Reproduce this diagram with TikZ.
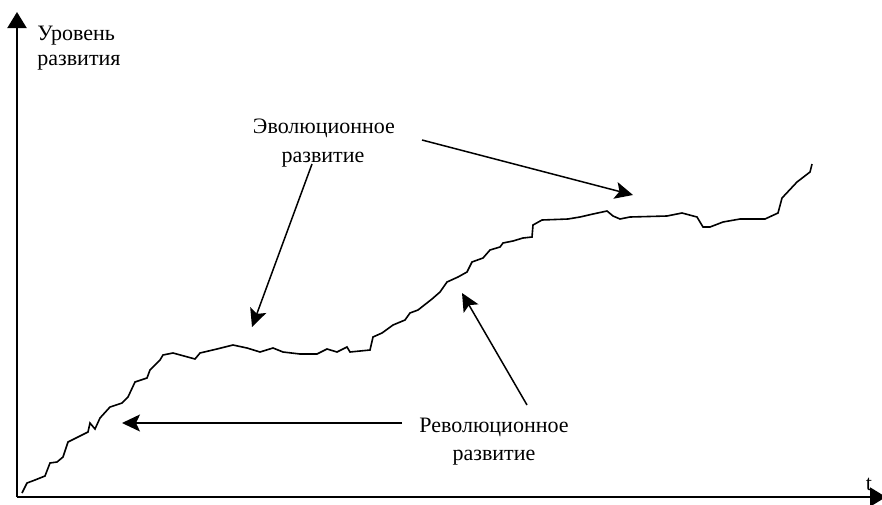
\documentclass[tikz,border=0pt]{standalone}
\usepackage{fontspec}
\setmainfont{Liberation Serif}
\usetikzlibrary{arrows.meta}

\tikzset{
  axis/.style={line width=1pt,-{Triangle[length=8pt,width=9.5pt]}},
  pointer/.style={line width=0.75pt,-{Stealth[length=9pt,width=8.5pt,inset=2pt]}},
  lbl/.style={inner sep=0pt,anchor=base,font=\fontsize{11}{13}\selectfont},
}

\begin{document}
\begin{tikzpicture}[x=0.5pt,y=-0.5pt]
    \useasboundingbox (0,0) rectangle (882,504);

    % axes
    \coordinate (orig) at (17,497);
    \coordinate (ytop) at (17,12);
    \coordinate (xend) at (886,497);
    \draw[axis] (orig) -- (ytop);
    \draw[axis] (orig) -- (xend);
    \node[lbl,anchor=base west] (ylab1) at (37,40) {Уровень};
    \node[lbl,anchor=base west] (ylab2) at (37,65) {развития};
    \node[lbl] (tlab) at (869,490) {t};

    % development curve
    \draw[line width=0.8pt] plot coordinates {
        (22,493) (27,483) (35,480) (45,476) (50,463) (57,462) (63,457)
        (68,442) (78,437) (88,432) (90,423) (95,429) (100,418) (110,407)
        (122,403) (128,397) (135,382) (147,378) (150,370) (160,360)
        (163,355) (173,353) (195,359) (200,353) (217,349) (233,345)
        (247,348) (260,352) (273,348) (283,352) (300,354) (317,354)
        (327,349) (337,352) (347,347) (350,352) (370,350) (373,337)
        (382,333) (393,325) (405,320) (410,313) (418,310) (432,299)
        (440,292) (447,282) (458,277) (467,272) (472,262) (483,258)
        (490,250) (500,247) (503,243) (513,241) (523,238) (532,237)
        (533,225) (542,220) (568,219) (580,217) (593,214) (607,211)
        (613,216) (620,219) (630,217) (667,216) (682,213) (697,217)
        (703,227) (710,227) (723,222) (740,219) (765,219) (778,213)
        (782,198) (797,182) (810,172) (812,164)
    };

    % labels
    \node[lbl] (evo1) at (324,133) {Эволюционное};
    \node[lbl] (evo2) at (323,162) {развитие};
    \node[lbl] (rev1) at (494,432) {Революционное};
    \node[lbl] (rev2) at (494,460) {развитие};

    % pointers
    \coordinate (evoA) at (312,164);
    \coordinate (evoB) at (422,140);
    \coordinate (revA) at (527,405);
    \coordinate (revB) at (402,423);
    \coordinate (evoTipA) at (252,327);
    \coordinate (evoTipB) at (633,195);
    \coordinate (revTipA) at (462,293);
    \coordinate (revTipB) at (122,423);
    \draw[pointer] (evoA) -- (evoTipA);
    \draw[pointer] (evoB) -- (evoTipB);
    \draw[pointer] (revA) -- (revTipA);
    \draw[pointer] (revB) -- (revTipB);
\end{tikzpicture}
\end{document}
